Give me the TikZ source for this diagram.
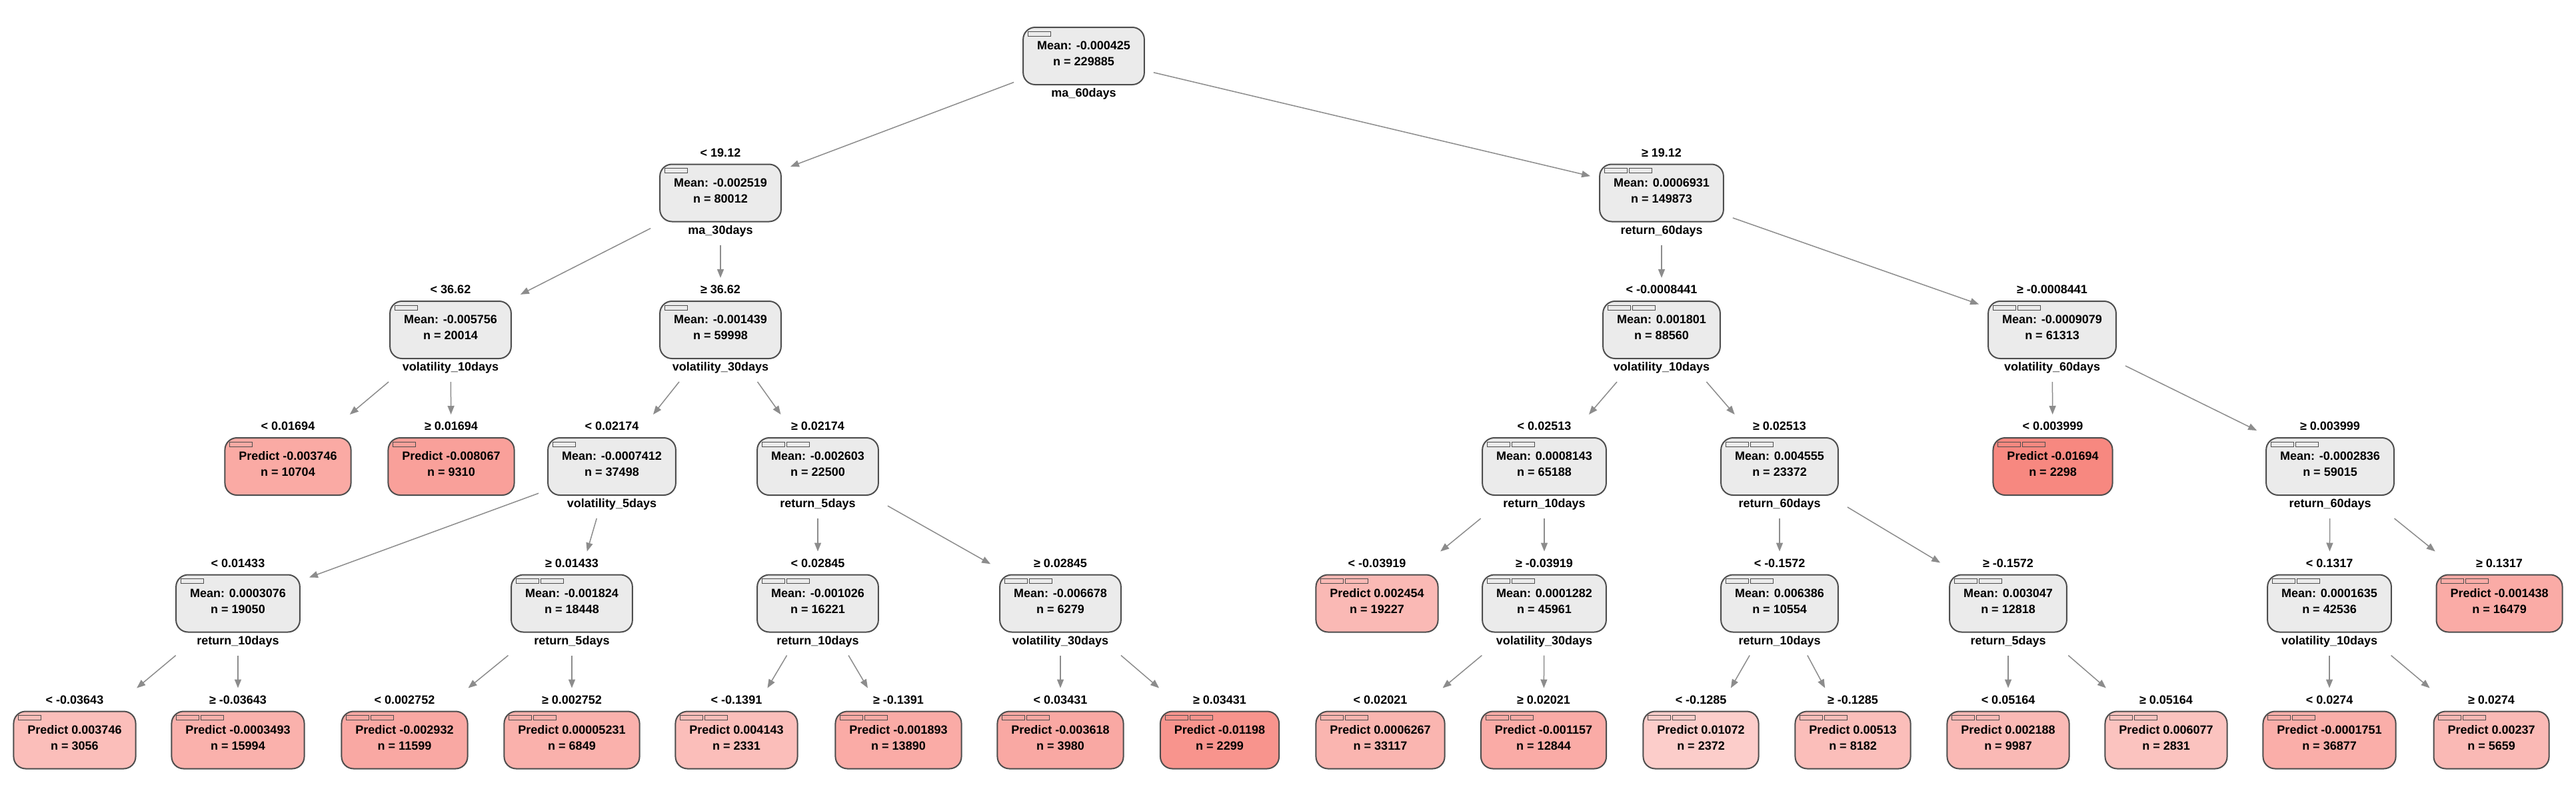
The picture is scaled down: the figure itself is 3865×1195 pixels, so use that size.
\documentclass[tikz,border=0pt]{standalone}
\usepackage{fontspec}
\setmainfont{Liberation Sans}
\usetikzlibrary{arrows.meta}
\definecolor{innerfill}{RGB}{235,235,235}
\definecolor{bord}{RGB}{77,77,77}
\definecolor{leafbase}{RGB}{245,100,90}
\definecolor{edgec}{RGB}{140,140,140}
\tikzset{
 tbox/.style={draw=bord, line width=1pt, rounded corners=9pt, minimum height=43pt,
   inner xsep=10.5pt, inner ysep=0pt, outer xsep=7pt, outer ysep=17.5pt,
   font=\fontsize{9pt}{11pt}\selectfont\bfseries},
 ttxt/.style={inner sep=0pt, font=\fontsize{9pt}{11pt}\selectfont\bfseries, text height=6.5pt, text depth=0pt},
 srect/.style={draw=bord, line width=0.4pt},
 conn/.style={draw=edgec, line width=0.75pt, -{Triangle[length=6.5pt,width=5pt]}},
}
\newcommand\TN[9]{%
 \node[tbox, fill=#6] (#1) at (#2,#3) {\phantom{#4}};
 \node[ttxt] (#1a) at (#2,#3-16) {#4};
 \node[ttxt] (#1b) at (#2,#3+8) {#5};
 \if\relax\detokenize{#7}\relax\else\node[ttxt] (#1e) at (#2,#3-61) {#7};\fi
 \if\relax\detokenize{#8}\relax\else\node[ttxt] (#1v) at (#2,#3+55) {#8};\fi
 \draw[srect] ([xshift=10.5pt,yshift=-20.5pt]#1.north west) rectangle ++(17pt,-3.5pt);
 \ifnum#9>1 \draw[srect] ([xshift=29pt,yshift=-20.5pt]#1.north west) rectangle ++(17pt,-3.5pt);\fi
}
\begin{document}
\begin{tikzpicture}[x=0.5pt,y=-0.5pt]
\fill[white] (0,0) rectangle (3865,1195);
\useasboundingbox (0,0) rectangle (3865,1195);
% level 0-2
\TN{root}{1626}{84}{Mean: -0.000425}{n = 229885}{innerfill}{}{ma\_60days}{1}
\TN{L}{1081}{289.5}{Mean: -0.002519}{n = 80012}{innerfill}{< 19.12}{ma\_30days}{1}
\TN{R}{2493}{289.5}{Mean: 0.0006931}{n = 149873}{innerfill}{≥ 19.12}{return\_60days}{2}
\TN{LL}{676}{495}{Mean: -0.005756}{n = 20014}{innerfill}{< 36.62}{volatility\_10days}{1}
\TN{LR}{1081}{495}{Mean: -0.001439}{n = 59998}{innerfill}{≥ 36.62}{volatility\_30days}{1}
\TN{RL}{2493}{495}{Mean: 0.001801}{n = 88560}{innerfill}{< -0.0008441}{volatility\_10days}{2}
\TN{RR}{3079}{495}{Mean: -0.0009079}{n = 61313}{innerfill}{≥ -0.0008441}{volatility\_60days}{2}
% level 3
\TN{LLL}{432}{700}{Predict -0.003746}{n = 10704}{leafbase!55!white}{< 0.01694}{}{1}
\TN{LLR}{677}{700}{Predict -0.008067}{n = 9310}{leafbase!61!white}{≥ 0.01694}{}{1}
\TN{LRL}{918}{700}{Mean: -0.0007412}{n = 37498}{innerfill}{< 0.02174}{volatility\_5days}{1}
\TN{LRR}{1227}{700}{Mean: -0.002603}{n = 22500}{innerfill}{≥ 0.02174}{return\_5days}{2}
\TN{RLL}{2317}{700}{Mean: 0.0008143}{n = 65188}{innerfill}{< 0.02513}{return\_10days}{2}
\TN{RLR}{2670}{700}{Mean: 0.004555}{n = 23372}{innerfill}{≥ 0.02513}{return\_60days}{2}
\TN{RRL}{3080}{700}{Predict -0.01694}{n = 2298}{leafbase!77!white}{< 0.003999}{}{2}
\TN{RRR}{3496}{700}{Mean: -0.0002836}{n = 59015}{innerfill}{≥ 0.003999}{return\_60days}{2}
% level 4
\TN{LRLL}{357}{905.5}{Mean: 0.0003076}{n = 19050}{innerfill}{< 0.01433}{return\_10days}{1}
\TN{LRLR}{858}{905.5}{Mean: -0.001824}{n = 18448}{innerfill}{≥ 0.01433}{return\_5days}{2}
\TN{LRRL}{1227}{905.5}{Mean: -0.001026}{n = 16221}{innerfill}{< 0.02845}{return\_10days}{2}
\TN{LRRR}{1591}{905.5}{Mean: -0.006678}{n = 6279}{innerfill}{≥ 0.02845}{volatility\_30days}{2}
\TN{RLLL}{2066}{905.5}{Predict 0.002454}{n = 19227}{leafbase!45!white}{< -0.03919}{}{2}
\TN{RLLR}{2317}{905.5}{Mean: 0.0001282}{n = 45961}{innerfill}{≥ -0.03919}{volatility\_30days}{2}
\TN{RLRL}{2670}{905.5}{Mean: 0.006386}{n = 10554}{innerfill}{< -0.1572}{return\_10days}{2}
\TN{RLRR}{3013}{905.5}{Mean: 0.003047}{n = 12818}{innerfill}{≥ -0.1572}{return\_5days}{2}
\TN{RRRL}{3495}{905.5}{Mean: 0.0001635}{n = 42536}{innerfill}{< 0.1317}{volatility\_10days}{2}
\TN{RRRR}{3750}{905.5}{Predict -0.001438}{n = 16479}{leafbase!54!white}{≥ 0.1317}{}{2}
% level 5
\TN{LRLLL}{112}{1110.5}{Predict 0.003746}{n = 3056}{leafbase!42!white}{< -0.03643}{}{1}
\TN{LRLLR}{357}{1110.5}{Predict -0.0003493}{n = 15994}{leafbase!50!white}{≥ -0.03643}{}{2}
\TN{LRLRL}{607}{1110.5}{Predict -0.002932}{n = 11599}{leafbase!56!white}{< 0.002752}{}{2}
\TN{LRLRR}{858}{1110.5}{Predict 0.00005231}{n = 6849}{leafbase!50!white}{≥ 0.002752}{}{2}
\TN{LRRLL}{1105}{1110.5}{Predict 0.004143}{n = 2331}{leafbase!42!white}{< -0.1391}{}{2}
\TN{LRRLR}{1348}{1110.5}{Predict -0.001893}{n = 13890}{leafbase!54!white}{≥ -0.1391}{}{2}
\TN{LRRRL}{1591}{1110.5}{Predict -0.003618}{n = 3980}{leafbase!56!white}{< 0.03431}{}{2}
\TN{LRRRR}{1830}{1110.5}{Predict -0.01198}{n = 2299}{leafbase!69!white}{≥ 0.03431}{}{2}
\TN{RLLRL}{2071}{1110.5}{Predict 0.0006267}{n = 33117}{leafbase!48!white}{< 0.02021}{}{2}
\TN{RLLRR}{2316}{1110.5}{Predict -0.001157}{n = 12844}{leafbase!54!white}{≥ 0.02021}{}{2}
\TN{RLRLL}{2552}{1110.5}{Predict 0.01072}{n = 2372}{leafbase!32!white}{< -0.1285}{}{2}
\TN{RLRLR}{2780}{1110.5}{Predict 0.00513}{n = 8182}{leafbase!42!white}{≥ -0.1285}{}{2}
\TN{RLRRL}{3013}{1110.5}{Predict 0.002188}{n = 9987}{leafbase!45!white}{< 0.05164}{}{2}
\TN{RLRRR}{3250}{1110.5}{Predict 0.006077}{n = 2831}{leafbase!39!white}{≥ 0.05164}{}{2}
\TN{RRRLL}{3495}{1110.5}{Predict -0.0001751}{n = 36877}{leafbase!52!white}{< 0.0274}{}{2}
\TN{RRRLR}{3738}{1110.5}{Predict 0.00237}{n = 5659}{leafbase!45!white}{≥ 0.0274}{}{2}
% connectors
\foreach \p/\c in {root/L,root/R,L/LL,L/LR,R/RL,R/RR,LL/LLL,LL/LLR,LR/LRL,LR/LRR,
  RL/RLL,RL/RLR,RR/RRL,RR/RRR,LRL/LRLL,LRL/LRLR,LRR/LRRL,LRR/LRRR,RLL/RLLL,RLL/RLLR,
  RLR/RLRL,RLR/RLRR,RRR/RRRL,RRR/RRRR,LRLL/LRLLL,LRLL/LRLLR,LRLR/LRLRL,LRLR/LRLRR,
  LRRL/LRRLL,LRRL/LRRLR,LRRR/LRRRL,LRRR/LRRRR,RLLR/RLLRL,RLLR/RLLRR,RLRL/RLRLL,
  RLRL/RLRLR,RLRR/RLRRL,RLRR/RLRRR,RRRL/RRRLL,RRRL/RRRLR}
  \draw[conn] (\p) -- (\c);
\end{tikzpicture}
\end{document}
